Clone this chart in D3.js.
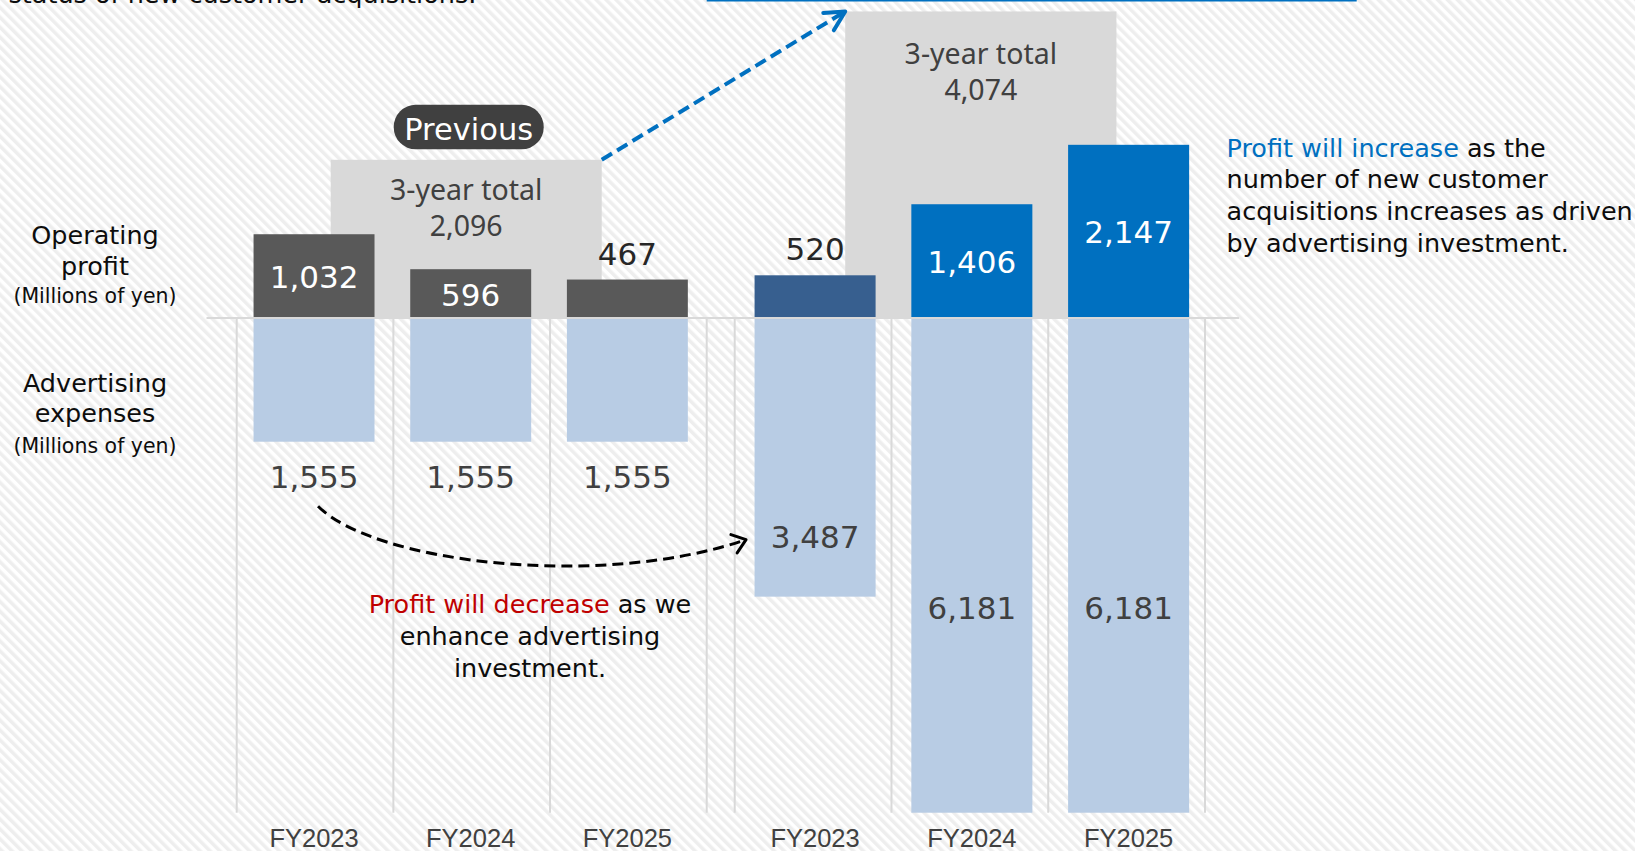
<!DOCTYPE html>
<html>
<head>
<meta charset="utf-8">
<script src="https://cdn.jsdelivr.net/npm/d3@7"></script>
<style>
  html, body { margin: 0; padding: 0; background: #fff; overflow: hidden; }
  svg { display: block; }
</style>
</head>
<body>
<svg id="chart" width="1635" height="851"></svg>
<script>
// ---- data (millions of yen) ----
const years = ["FY2023", "FY2024", "FY2025"];
const prevProfit = [1032, 596, 467];
const prevAdSpend = [1555, 1555, 1555];
const prevTotal = 2096;
const planProfit = [520, 1406, 2147];
const planAdSpend = [3487, 6181, 6181];
const planTotal = 4074;

const rowLabelsProfit = ["Operating", "profit", "(Millions of yen)"];
const rowLabelsAds = ["Advertising", "expenses", "(Millions of yen)"];
const totalCaption = "3-year total";
const pillText = "Previous";
const increaseNote = [["Profit will increase", " as the"], ["", "number of new customer"],
                      ["", "acquisitions increases as driven"], ["", "by advertising investment."]];
const decreaseNote = [["Profit will decrease", " as we"], ["", "enhance advertising"], ["", "investment."]];
const topCaption = "status of new customer acquisitions.";

// ---- layout ----
const W = 1635, H = 851;
const base = 317;
const FONT = "'DejaVu Sans', Verdana, sans-serif";
const fmt = d3.format(",");

const svg = d3.select("#chart");

// value scale shared by profit (up) and advertising (down)
const y = d3.scaleLinear().domain([0, 1000]).range([base, base - 80.2]);
// scale for the 3-year total backdrops
const yTotal = d3.scaleLinear().domain([0, 1000]).range([base, base - 75]);

const groups = [
  { profit: prevProfit, ads: prevAdSpend, total: prevTotal, range: [236.7, 706.7], shift: -1,
    boxSpan: [0.6, 2.33], fills: ["#595959", "#595959", "#595959"], pill: true },
  { profit: planProfit, ads: planAdSpend, total: planTotal, range: [734.7, 1205], shift: 2,
    boxSpan: [0.705, 2.435], fills: ["#375f8f", "#0070c0", "#0070c0"], pill: false }
];

// ---- background hatch ----
const defs = svg.append("defs");
const pat = defs.append("pattern")
  .attr("id", "hatch").attr("patternUnits", "userSpaceOnUse")
  .attr("width", 7).attr("height", 7)
  .attr("patternTransform", "rotate(-45)");
pat.append("rect").attr("width", 7).attr("height", 7).attr("fill", "#ffffff");
pat.append("rect").attr("width", 3.5).attr("height", 7).attr("fill", "#eeeeee");
svg.append("rect").attr("width", W).attr("height", H).attr("fill", "url(#hatch)");

// caption line running off the top edge and the rule of the box above
svg.append("text").attr("x", 8.5).attr("y", 3)
  .attr("font-family", FONT).attr("font-size", 25.5).attr("fill", "#0d0d0d")
  .text(topCaption);
svg.append("rect").attr("x", 706.7).attr("y", -1).attr("width", 650).attr("height", 2.5)
  .attr("fill", "#0070c0");

// ---- row labels ----
function rowLabel(lines, baselines) {
  lines.forEach((t, i) => {
    svg.append("text").attr("x", 95).attr("y", baselines[i])
      .attr("text-anchor", "middle").attr("font-family", FONT)
      .attr("font-size", i === 2 ? 20.5 : 25.5).attr("fill", "#0d0d0d")
      .text(t);
  });
}
rowLabel(rowLabelsProfit, [244.3, 275, 303]);
rowLabel(rowLabelsAds, [391.7, 421.7, 453.3]);

const layers = { box: svg.append("g"), grid: svg.append("g"), bars: svg.append("g"),
                 axis: svg.append("g"), labels: svg.append("g"), arrows: svg.append("g") };

const geo = [];

groups.forEach(g => {
  const x = d3.scaleBand().domain(years).range(g.range).padding(0);
  const step = x.step();
  const bw = step * 0.772;
  const off = (step - bw) / 2 + g.shift;
  const r0 = g.range[0];

  // 3-year total backdrop
  const bx0 = r0 + step * g.boxSpan[0];
  const bx1 = r0 + step * g.boxSpan[1];
  const btop = yTotal(g.total);
  const bh = base - btop;
  layers.box.append("rect").attr("x", bx0).attr("y", btop)
    .attr("width", bx1 - bx0).attr("height", bh).attr("fill", "#d9d9d9");
  const tb = btop + 0.08 * bh + 28;
  [totalCaption, fmt(g.total)].forEach((t, i) => {
    layers.box.append("text").attr("x", (bx0 + bx1) / 2).attr("y", tb + i * 36)
      .attr("text-anchor", "middle").attr("font-family", "'Noto Sans', sans-serif")
      .attr("font-size", 28.5).attr("fill", "#404040").text(t);
  });

  if (g.pill) {
    const cx = (bx0 + bx1) / 2 + 2.5;
    const pw = 150, ph = 44.5, pb = btop - 10.5;
    layers.box.append("rect").attr("x", cx - pw / 2).attr("y", pb - ph)
      .attr("width", pw).attr("height", ph).attr("rx", 22).attr("fill", "#404040");
    layers.box.append("text").attr("x", cx).attr("y", pb - ph + 34.7)
      .attr("text-anchor", "middle").attr("font-family", FONT)
      .attr("font-size", 30.5).attr("fill", "#ffffff").text(pillText);
  }

  // vertical cell dividers below the baseline
  const edges = years.map(d => x(d)).concat([g.range[1]]);
  layers.grid.selectAll(null).data(edges).join("line")
    .attr("x1", d => d).attr("x2", d => d)
    .attr("y1", base).attr("y2", y(-6181))
    .attr("stroke", "#d9d9d9").attr("stroke-width", 2);

  // advertising bars (downward)
  layers.bars.selectAll(null).data(g.ads).join("rect")
    .attr("x", (d, i) => x(years[i]) + off)
    .attr("y", base + 1)
    .attr("width", bw)
    .attr("height", d => y(-d) - base - 1)
    .attr("fill", "#b8cce4");

  // operating profit bars (upward)
  layers.bars.selectAll(null).data(g.profit).join("rect")
    .attr("x", (d, i) => x(years[i]) + off)
    .attr("y", d => y(d))
    .attr("width", bw)
    .attr("height", d => base - y(d))
    .attr("fill", (d, i) => g.fills[i]);

  // profit labels: inside when the bar is tall enough, otherwise above
  g.profit.forEach((v, i) => {
    const h = base - y(v);
    const inside = h >= 45;
    layers.labels.append("text")
      .attr("x", x(years[i]) + off + bw / 2)
      .attr("y", inside ? y(v) + h / 2 + 12.5 : y(v) - 15)
      .attr("text-anchor", "middle").attr("font-family", FONT)
      .attr("font-size", 31).attr("fill", inside ? "#ffffff" : "#262626")
      .text(fmt(v));
  });

  // advertising labels
  const adBase = [];
  g.ads.forEach((v, i) => {
    const bottom = y(-v);
    const h = bottom - base;
    const by = h < 200 ? bottom + 46 : Math.min(bottom - 49, base + 302);
    adBase.push(by);
    layers.labels.append("text")
      .attr("x", x(years[i]) + off + bw / 2)
      .attr("y", by)
      .attr("text-anchor", "middle").attr("font-family", FONT)
      .attr("font-size", 31).attr("fill", "#404040")
      .text(fmt(v));
  });

  // fiscal year labels
  layers.labels.selectAll(null).data(years).join("text")
    .attr("x", d => x(d) + off + bw / 2)
    .attr("y", 847)
    .attr("text-anchor", "middle").attr("font-family", "'Liberation Sans', Arial, sans-serif")
    .attr("font-size", 25.5).attr("fill", "#404040")
    .text(d => d);

  geo.push({ x, off, bw, bx0, bx1, btop, adBase });
});

// baseline
layers.axis.append("line").attr("x1", 206.5).attr("x2", 1239)
  .attr("y1", base + 1).attr("y2", base + 1)
  .attr("stroke", "#d9d9d9").attr("stroke-width", 2);

// ---- arrows ----
function chevron(tip, angle, len, spread, color, width) {
  const back = angle + Math.PI;
  const pts = [back + spread, back - spread].map(a => [tip[0] + len * Math.cos(a), tip[1] + len * Math.sin(a)]);
  layers.arrows.append("path")
    .attr("d", `M${pts[0][0]},${pts[0][1]}L${tip[0]},${tip[1]}L${pts[1][0]},${pts[1][1]}`)
    .attr("fill", "none").attr("stroke", color).attr("stroke-width", width)
    .attr("stroke-linecap", "round").attr("stroke-linejoin", "round");
}

// blue: previous total -> new total
const p0 = [geo[0].bx1, geo[0].btop];
const p1 = [geo[1].bx0, geo[1].btop];
layers.arrows.append("line")
  .attr("x1", p0[0]).attr("y1", p0[1]).attr("x2", p1[0] - 3).attr("y2", p1[1] + 1.8)
  .attr("stroke", "#0070c0").attr("stroke-width", 4).attr("stroke-dasharray", "12,6");
chevron(p1, Math.atan2(p1[1] - p0[1], p1[0] - p0[0]), 22, 0.48, "#0070c0", 4);

// black: previous advertising -> increased advertising
const s = [geo[0].x(years[0]) + geo[0].off + geo[0].bw / 2 + 4, geo[0].adBase[0] + 18.5];
const e = [geo[1].x(years[0]) + geo[1].off - 8.5, geo[1].adBase[0] - 8];
const c1 = [s[0] + 57, s[1] + 57];
const c2 = [e[0] - 146, e[1] + 50];
layers.arrows.append("path")
  .attr("d", `M${s[0]},${s[1]}C${c1[0]},${c1[1]} ${c2[0]},${c2[1]} ${e[0]},${e[1]}`)
  .attr("fill", "none").attr("stroke", "#000").attr("stroke-width", 3)
  .attr("stroke-dasharray", "11,6");
chevron(e, Math.atan2(e[1] - c2[1], e[0] - c2[0]), 16, 0.65, "#000", 3);

// ---- notes ----
function note(lines, x0, y0, lh, anchor, accent) {
  lines.forEach((ln, i) => {
    const t = svg.append("text").attr("x", x0).attr("y", y0 + i * lh)
      .attr("text-anchor", anchor).attr("font-family", FONT)
      .attr("font-size", 25.5).attr("fill", "#0d0d0d");
    if (ln[0]) t.append("tspan").attr("fill", accent).text(ln[0]);
    t.append("tspan").text(ln[1]);
  });
}
note(increaseNote, 1226.5, 156.7, 31.7, "start", "#0070c0");
note(decreaseNote, 530, 613.3, 31.7, "middle", "#c00000");
</script>
</body>
</html>
